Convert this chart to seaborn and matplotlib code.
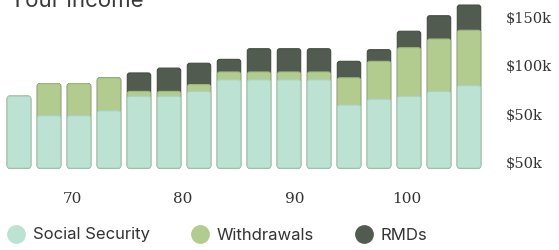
import numpy as np
import pandas as pd
import seaborn as sns
import matplotlib.pyplot as plt
from matplotlib.lines import Line2D
from matplotlib.patches import FancyBboxPatch

# income per bar, in $k
social_security = [74, 54, 54, 59, 74, 74, 79, 91, 91, 91, 91, 65, 71, 74, 79, 85]
withdrawals = [0, 33, 33, 34, 5, 5, 7, 8, 8, 8, 8, 28, 39, 50, 54, 57]
rmds = [0, 0, 0, 0, 19, 24, 22, 13, 24, 24, 24, 17, 12, 17, 24, 26]

age_labels = ["70", "80", "90", "100"]
age_tick_at = [1.77, 5.47, 9.2, 12.93]  # in bar-index units
y_ticks = [0, 50, 100, 150]
y_labels = ["$50k", "$50k", "$100k", "$150k"]  # the original repeats $50k

colors = {"Social Security": "#bce2d3", "Withdrawals": "#b2cb8e", "RMDs": "#525b50"}
edges = {"Social Security": "#a9d0c0", "Withdrawals": "#a0b97d", "RMDs": "#444c42"}

df = pd.DataFrame({"bar": range(len(social_security)),
                   "ss": social_security, "w": withdrawals, "r": rmds})
df["ss_w"] = df["ss"] + df["w"]
df["total"] = df["ss_w"] + df["r"]

sns.set_theme(style="white")
plt.rcParams["font.family"] = ["Inter", "DejaVu Sans"]

fig = plt.figure(figsize=(5.59, 2.5), dpi=100)
ax = fig.add_axes([0, 75 / 250, 490 / 559, 175 / 250])

# stacked look: draw totals first, then overlay the lower parts
for col, name in [("total", "RMDs"), ("ss_w", "Withdrawals"), ("ss", "Social Security")]:
    sns.barplot(data=df, x="bar", y=col, color=colors[name], saturation=1,
                width=0.78, edgecolor=edges[name], linewidth=0.8, ax=ax)

# swap rectangles for slightly rounded ones
ax.set_xlim(-0.633, 15.7)
ax.set_ylim(-7.2, 173.2)
px_x = 30.0
px_y = 0.97
rects = list(ax.patches)
for p in rects:
    x, y = p.get_x(), p.get_y()
    w, h = p.get_width(), p.get_height()
    if h <= 0:
        p.remove()
        continue
    r = 2.5 / px_x
    fb = FancyBboxPatch((x, y), w, h, boxstyle=f"round,pad=0,rounding_size={r}",
                        mutation_aspect=px_x / px_y,
                        facecolor=p.get_facecolor(), edgecolor=p.get_edgecolor(),
                        linewidth=0.8, zorder=p.get_zorder())
    p.remove()
    ax.add_patch(fb)

ax.set_xticks(age_tick_at)
ax.set_xticklabels(age_labels, fontfamily="DejaVu Serif", fontsize=11, color="#333333")
ax.yaxis.tick_right()
ax.set_yticks(y_ticks)
ax.set_yticklabels(y_labels, fontfamily="DejaVu Serif", fontsize=10.5, color="#333333",
                   va="baseline", ha="left")
ax.tick_params(axis="y", length=0, pad=11)
ax.tick_params(axis="x", length=0, pad=12)
ax.set_xlabel("")
ax.set_ylabel("")
for s in ax.spines.values():
    s.set_visible(False)

fig.text(10 / 559, 1 - 7 / 250, "Your income", fontsize=16, color="#3a3a3a",
         va="baseline", ha="left")

handles = [Line2D([], [], linestyle="", marker="o", markersize=12.5,
                  markerfacecolor=colors[n], markeredgecolor=colors[n]) for n in colors]
fig.legend(handles, list(colors), loc="center left", bbox_to_anchor=(8 / 559, 1 - 235 / 250),
           ncol=3, frameon=False, fontsize=12, handlelength=1.0, handletextpad=0.5,
           columnspacing=2.5, labelcolor="#333333", borderaxespad=0, borderpad=0)

fig.savefig("out.png", dpi=100)
